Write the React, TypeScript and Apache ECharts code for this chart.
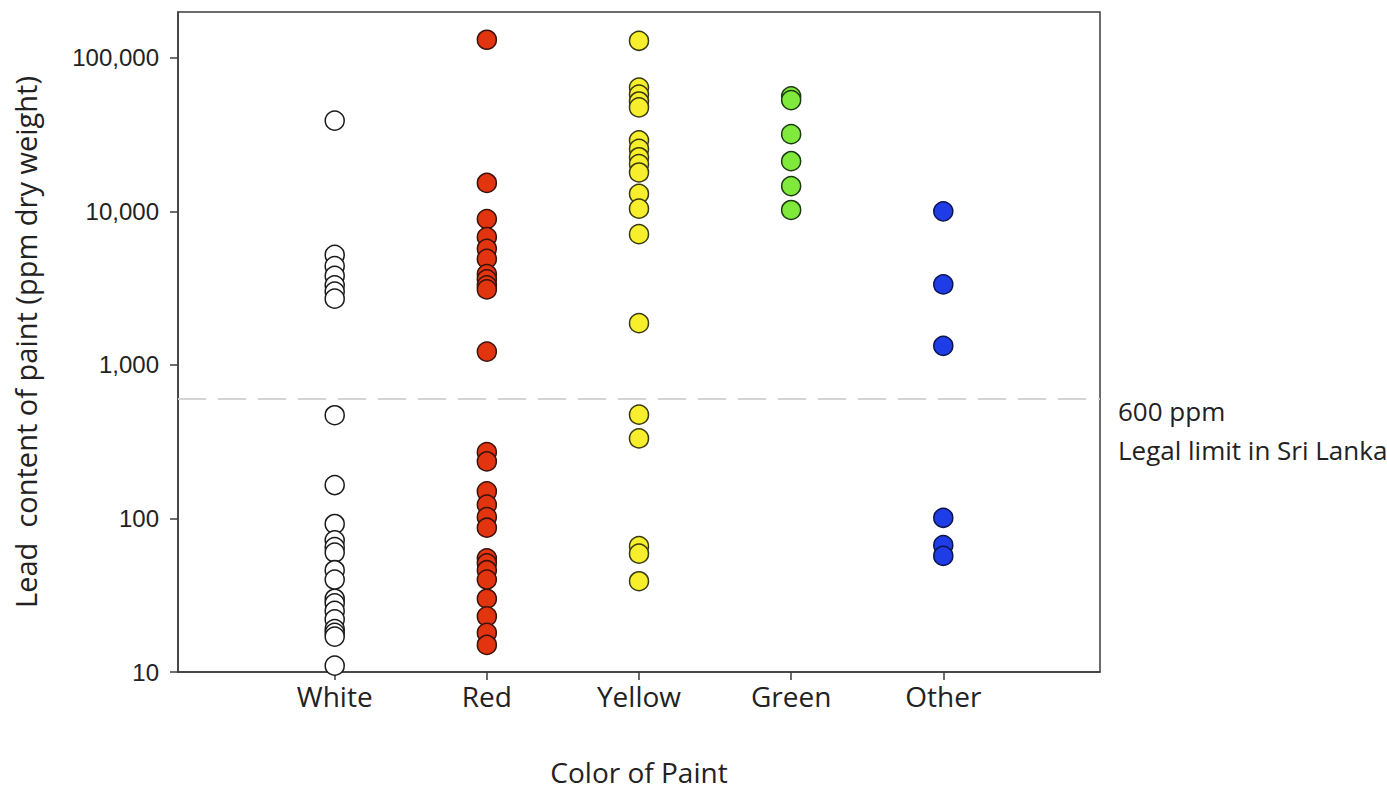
import React, { useEffect, useRef } from "react";
import * as echarts from "echarts";

const categories = ["White", "Red", "Yellow", "Green", "Other"];
const yTicks = [10, 100, 1000, 10000, 100000];

const whiteValues = [39000, 5200, 4400, 3800, 3300, 3000, 2700, 470, 165, 92, 72, 65, 60, 46, 40, 30, 28, 25, 22, 19, 18, 17, 11];
const redValues = [131000, 15300, 8900, 6800, 5700, 4900, 3900, 3600, 3300, 3100, 1220, 270, 235, 150, 123, 102, 87, 55, 51, 46, 40, 30, 23, 18, 15];
const yellowValues = [129000, 64000, 57600, 51900, 47500, 29000, 25500, 22500, 20300, 17900, 13000, 10400, 7100, 1870, 474, 332, 66, 59, 39];
const greenValues = [56000, 53000, 31800, 21200, 14600, 10200];
const otherValues = [10000, 3340, 1330, 101, 67, 57];

const legalLimit = 600;
const legalLabel = ["600 ppm", "Legal limit in Sri Lanka"];

const seriesDefs = [
  { name: "White", values: whiteValues, fill: "#ffffff", border: "#1a1a1a" },
  { name: "Red", values: redValues, fill: "#e2350f", border: "#3a1208" },
  { name: "Yellow", values: yellowValues, fill: "#f7ee2c", border: "#3a3a10" },
  { name: "Green", values: greenValues, fill: "#7fe93c", border: "#1e3a10" },
  { name: "Other", values: otherValues, fill: "#1f3de6", border: "#0c1450" },
];

const FONT = "'Open Sans', 'Noto Sans', sans-serif";

export default function App() {
  const ref = useRef<HTMLDivElement>(null);
  useEffect(() => {
    if (!ref.current) return;
    const chart = echarts.init(ref.current, null, { renderer: "svg" });
    const series: any[] = seriesDefs.map((s, i) => ({
      type: "scatter",
      name: s.name,
      symbol: "circle",
      symbolSize: 19,
      data: s.values.map((v) => [categories.indexOf(s.name) + 1, v]),
      itemStyle: { color: s.fill, borderColor: s.border, borderWidth: 1.5, opacity: 1 },
      z: 3,
      markLine:
        i === 0
          ? {
              silent: true,
              symbol: "none",
              label: { show: false },
              lineStyle: { color: "#d4d4d4", width: 2, type: [28, 12] },
              data: [{ yAxis: legalLimit }],
              z: 1,
            }
          : undefined,
    }));
    chart.setOption({
      animation: false,
      backgroundColor: "#ffffff",
      grid: {
        left: 178,
        right: 287,
        top: 12,
        bottom: 112,
        show: true,
        borderColor: "#3c3c3c",
        borderWidth: 1.5,
        backgroundColor: "transparent",
      },
      xAxis: {
        type: "value",
        min: -0.03,
        max: 6.03,
        name: "Color of Paint",
        nameLocation: "middle",
        nameGap: 86,
        nameTextStyle: { fontFamily: FONT, fontSize: 28, color: "#222" },
        axisLine: { show: true, onZero: false, lineStyle: { color: "#3c3c3c", width: 1.5 } },
        axisTick: { show: true, length: 8, customValues: [1, 2, 3, 4, 5], lineStyle: { color: "#3c3c3c", width: 1.5 } },
        axisLabel: {
          customValues: [1, 2, 3, 4, 5],
          formatter: (v: number) => categories[Math.round(v) - 1] ?? "",
          fontFamily: FONT,
          fontSize: 28,
          color: "#222",
          margin: 10,
        },
        splitLine: { show: false },
      },
      yAxis: {
        type: "log",
        logBase: 10,
        min: 10,
        max: 198600,
        name: "Lead  content of paint (ppm dry weight)",
        nameLocation: "middle",
        nameRotate: 90,
        nameGap: 138,
        nameTextStyle: { fontFamily: FONT, fontSize: 29, color: "#222" },
        axisLine: { show: true, onZero: false, lineStyle: { color: "#3c3c3c", width: 1.5 } },
        axisTick: { show: true, length: 8, customValues: yTicks, lineStyle: { color: "#3c3c3c", width: 1.5 } },
        axisLabel: {
          customValues: yTicks,
          formatter: (v: number) => Math.round(v).toLocaleString("en-US"),
          fontFamily: "'Liberation Sans', Arial, sans-serif",
          fontSize: 24,
          color: "#222",
          margin: 19,
        },
        splitLine: { show: false },
      },
      graphic: [
        {
          type: "text",
          left: 1118,
          top: 398,
          style: { text: legalLabel[0], fontFamily: FONT, fontSize: 26, fill: "#222" },
        },
        {
          type: "text",
          left: 1118,
          top: 437,
          style: { text: legalLabel[1], fontFamily: FONT, fontSize: 26, fill: "#222" },
        },
      ],
      series,
    });
    return () => chart.dispose();
  }, []);
  return <div ref={ref} style={{ position: "fixed", left: 0, top: 0, width: 1387, height: 791 }} />;
}
